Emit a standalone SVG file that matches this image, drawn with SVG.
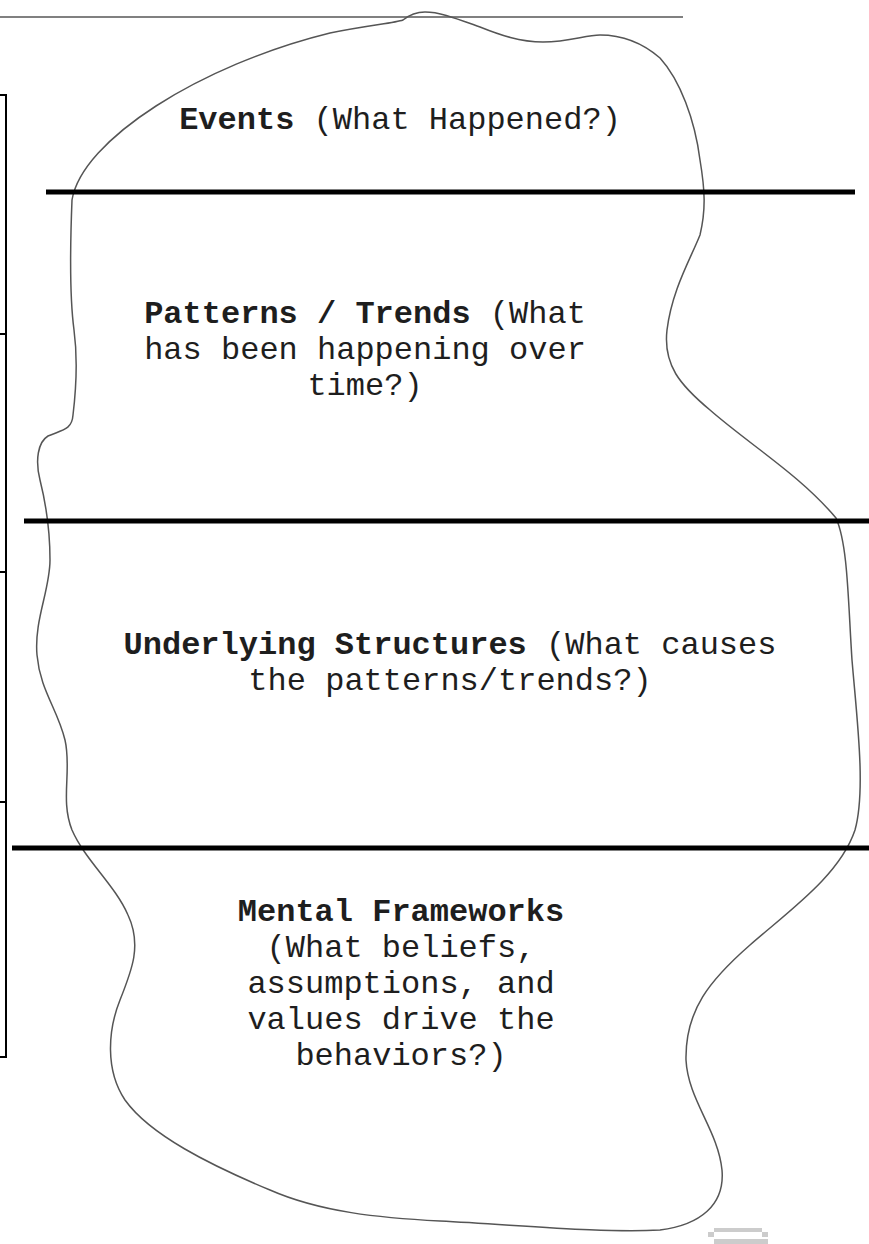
<svg xmlns="http://www.w3.org/2000/svg" width="869" height="1244" viewBox="0 0 869 1244">
<style>
.t{font-family:"Liberation Mono","DejaVu Sans Mono",monospace;font-size:32px;fill:#1e1e1e;text-anchor:middle}
.b{font-weight:bold}
.thick{stroke:#000;stroke-width:5;fill:none}
.frame{stroke:#000;stroke-width:2;fill:none}
</style>
<rect width="869" height="1244" fill="#fff"/>
<g id="top-line"><line x1="0" y1="17" x2="683" y2="17" stroke="#808080" stroke-width="2"/></g>
<g id="left-frame">
<path class="frame" d="M0,95 H6 V1057 H0"/>
<line class="frame" x1="0" y1="334" x2="6" y2="334"/>
<line class="frame" x1="0" y1="572" x2="6" y2="572"/>
<line class="frame" x1="0" y1="802" x2="6" y2="802"/>
</g>
<g id="iceberg">
<path fill="none" stroke="#555" stroke-width="1.5" d="M425,12 C440,12 455,18 480,27 C500,35 520,42 543,42 C570,42 585,35 600,35 C625,35 645,45 660,58 C680,80 695,120 700,160 C705,190 706,210 700,235 C690,260 672,290 667,330 C663,365 680,385 710,410 C750,445 800,475 836,518 C848,545 848,600 852,660 C857,720 866,790 855,830 C840,875 790,910 750,945 C710,980 685,1010 686,1060 C688,1100 718,1130 722,1170 C725,1205 700,1225 660,1230 C600,1233 520,1225 440,1221 C380,1218 320,1212 270,1190 C210,1165 150,1135 125,1100 C105,1070 108,1030 120,1000 C132,970 142,945 128,915 C115,885 85,860 72,830 C60,800 72,770 65,740 C58,710 40,690 37,655 C34,620 50,590 50,560 C50,525 45,500 40,480 C35,460 38,442 48,436 C62,430 72,430 73,415 C76,390 78,360 74,330 C70,300 70,250 72,200 C82,140 200,65 330,33 C370,25 395,23 403,20 C408,16 415,12 425,12 Z"/>
</g>
<g id="dividers">
<line class="thick" x1="46" y1="192" x2="855" y2="192"/>
<line class="thick" x1="24" y1="521" x2="869" y2="521"/>
<line class="thick" x1="12" y1="848" x2="869" y2="848"/>
</g>
<g id="events"><text class="t" x="400" y="129"><tspan class="b">Events</tspan> (What Happened?)</text></g>
<g id="patterns">
<text class="t" x="365" y="323"><tspan class="b">Patterns / Trends</tspan> (What</text>
<text class="t" x="365" y="359">has been happening over</text>
<text class="t" x="365" y="395">time?)</text>
</g>
<g id="structures">
<text class="t" x="450" y="654"><tspan class="b">Underlying Structures</tspan> (What causes</text>
<text class="t" x="450" y="690">the patterns/trends?)</text>
</g>
<g id="mental">
<text class="t b" x="401" y="921">Mental Frameworks</text>
<text class="t" x="401" y="957">(What beliefs,</text>
<text class="t" x="401" y="993">assumptions, and</text>
<text class="t" x="401" y="1029">values drive the</text>
<text class="t" x="401" y="1065">behaviors?)</text>
</g>
<g id="corner-icon" fill="#ccc">
<rect x="714" y="1228" width="48" height="4"/>
<rect x="708" y="1232" width="6" height="5"/>
<rect x="762" y="1232" width="6" height="5"/>
<rect x="714" y="1239" width="54" height="5"/>
</g>
</svg>
